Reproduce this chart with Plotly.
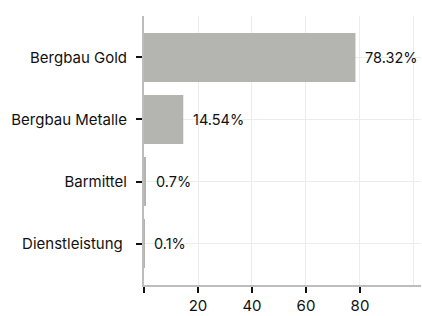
import plotly.graph_objects as go

categories = ["Bergbau Gold", "Bergbau Metalle", "Barmittel", "Dienstleistung "]
values = [78.32, 14.54, 0.7, 0.1]
labels = ["78.32%", "14.54%", "0.7%", "0.1%"]
x_tickvals = [0, 20, 40, 60, 80]
x_ticktext = ["", "20", "40", "60", "80"]

fig = go.Figure()
fig.add_trace(go.Bar(
    y=categories, x=values, orientation="h",
    marker=dict(color="#b4b4b0", line=dict(width=0)),
    hoverinfo="skip",
))
for c, v, t in zip(categories, values, labels):
    fig.add_annotation(x=v, y=c, xref="x", yref="y", text=t, showarrow=False,
                       xanchor="left", xshift=8, font=dict(size=14.5, color="#111"))

fig.update_layout(
    width=422, height=316,
    margin=dict(l=144, r=1, t=16, b=27),
    paper_bgcolor="white", plot_bgcolor="white",
    font=dict(family="Inter", size=15, color="#111"),
    bargap=0.21, showlegend=False,
)
fig.update_xaxes(
    range=[0, 102.6], tickvals=x_tickvals, ticktext=x_ticktext,
    ticks="outside", ticklen=6, tickwidth=2, tickcolor="#111",
    showline=True, linecolor="#bdbdbd", linewidth=2,
    showgrid=True, gridcolor="#ececec", gridwidth=1,
    minor=dict(tick0=0, dtick=20, showgrid=True, gridcolor="#ececec", ticks=""),
    zeroline=False, fixedrange=True,
)
fig.update_yaxes(
    categoryorder="array", categoryarray=categories[::-1],
    range=[-0.667, 3.667],
    ticks="outside", ticklen=6, tickwidth=2, tickcolor="#111",
    showline=True, linecolor="#bdbdbd", linewidth=2,
    showgrid=True, gridcolor="#ececec", gridwidth=1,
    ticklabelstandoff=6, fixedrange=True,
)
fig.write_html("out.html", config={"displayModeBar": False},
               post_script="document.body.style.margin='0';document.body.style.overflow='hidden';")
